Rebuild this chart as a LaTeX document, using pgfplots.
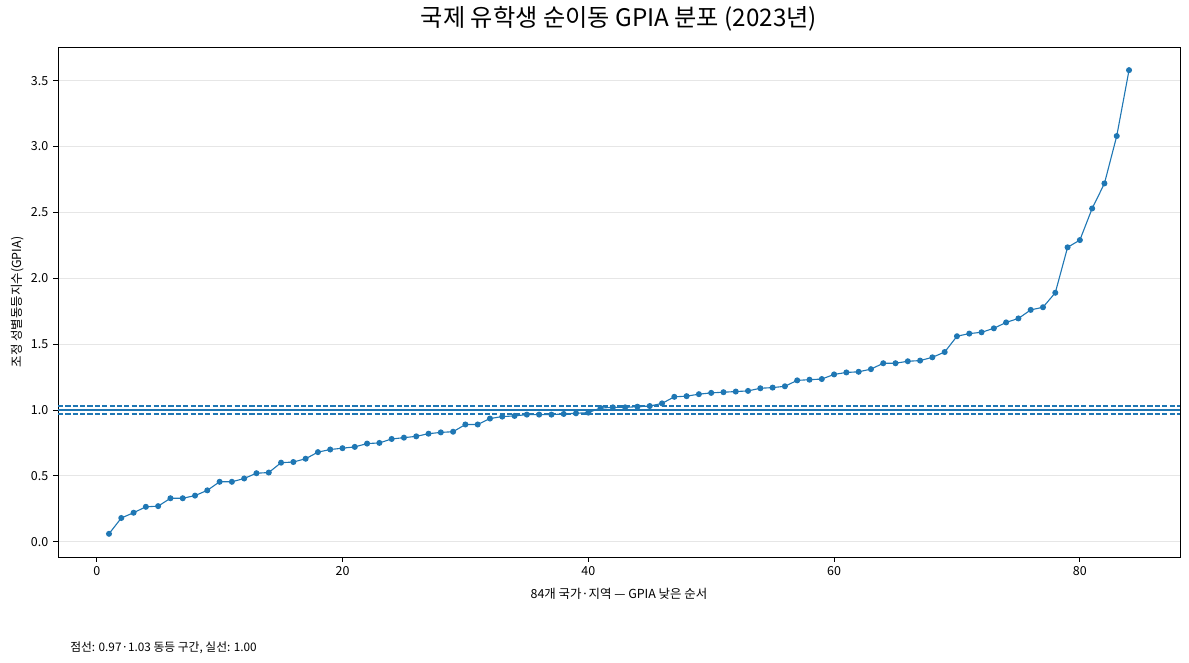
\documentclass[border=0pt]{standalone}
\usepackage{fontspec}
\setmainfont{Noto Sans CJK KR}
\usepackage{pgfplots}
\pgfplotsset{compat=1.18}
\definecolor{mplblue}{HTML}{1F77B4}
\definecolor{gridgray}{HTML}{E6E6E6}

\begin{document}
\begin{tikzpicture}[x=1bp,y=1bp]
\useasboundingbox (0,0) rectangle (856.08,477.36);
\begin{axis}[
  at={(41.76bp,76.32bp)}, anchor=south west,
  width=807.84bp, height=367.2bp, scale only axis,
  xmin=-3.15, xmax=88.15, ymin=-0.116, ymax=3.756,
  xtick={0,20,40,60,80},
  ytick={0,0.5,1,1.5,2,2.5,3,3.5},
  yticklabel style={/pgf/number format/.cd, fixed, fixed zerofill, precision=1},
  /pgf/number format/assume math mode=true,
  tick align=outside, major tick length=3.5bp,
  tick style={black, line width=0.6bp},
  tick pos=left,
  ymajorgrids, grid style={gridgray, line width=0.6bp},
  axis line style={black, line width=0.6bp},
  ticklabel style={font=\fontsize{9}{10}\selectfont},
  title={국제 유학생 순이동 GPIA 분포 (2023년)},
  title style={font=\fontsize{17.5}{20}\selectfont, at={(0.5,1)}, yshift=2bp, anchor=south},
  xlabel={84개 국가·지역 — GPIA 낮은 순서},
  ylabel={조정 성별동등지수(GPIA)},
  label style={font=\fontsize{9}{10}\selectfont},
  xlabel style={yshift=-2bp},
  ylabel style={yshift=-2bp},
  clip=true,
]
\addplot[mplblue, line width=1.3bp, forget plot] coordinates {(-3.15,1.00) (88.15,1.00)};
\addplot[mplblue, line width=0.9bp, dashed, dash pattern=on 3.7bp off 1.6bp, forget plot] coordinates {(-3.15,0.97) (88.15,0.97)};
\addplot[mplblue, line width=0.9bp, dashed, dash pattern=on 3.7bp off 1.6bp, forget plot] coordinates {(-3.15,1.03) (88.15,1.03)};
\addplot[mplblue, line width=0.8bp, mark=*, mark size=1.75bp, mark options={solid, fill=mplblue, draw=mplblue}] coordinates {
(1,0.06) (2,0.18) (3,0.22) (4,0.265) (5,0.27) (6,0.33) (7,0.33) (8,0.35) (9,0.39) (10,0.455)
(11,0.455) (12,0.48) (13,0.52) (14,0.525) (15,0.60) (16,0.605) (17,0.63) (18,0.68) (19,0.70) (20,0.71)
(21,0.72) (22,0.745) (23,0.75) (24,0.78) (25,0.79) (26,0.80) (27,0.82) (28,0.83) (29,0.835) (30,0.89)
(31,0.89) (32,0.935) (33,0.95) (34,0.955) (35,0.965) (36,0.965) (37,0.965) (38,0.97) (39,0.975) (40,0.98)
(41,1.015) (42,1.02) (43,1.02) (44,1.025) (45,1.03) (46,1.05) (47,1.10) (48,1.105) (49,1.12) (50,1.13)
(51,1.135) (52,1.14) (53,1.145) (54,1.165) (55,1.17) (56,1.18) (57,1.225) (58,1.23) (59,1.235) (60,1.27)
(61,1.285) (62,1.29) (63,1.31) (64,1.355) (65,1.355) (66,1.37) (67,1.375) (68,1.40) (69,1.44) (70,1.56)
(71,1.58) (72,1.59) (73,1.62) (74,1.665) (75,1.695) (76,1.76) (77,1.78) (78,1.89) (79,2.235) (80,2.29)
(81,2.53) (82,2.72) (83,3.08) (84,3.58)
};
\end{axis}
\node[anchor=base west, font=\fontsize{8.5}{9}\selectfont, inner sep=0pt] at (50.4,8.6) {점선: 0.97·1.03 동등 구간, 실선: 1.00};
\end{tikzpicture}
\end{document}
